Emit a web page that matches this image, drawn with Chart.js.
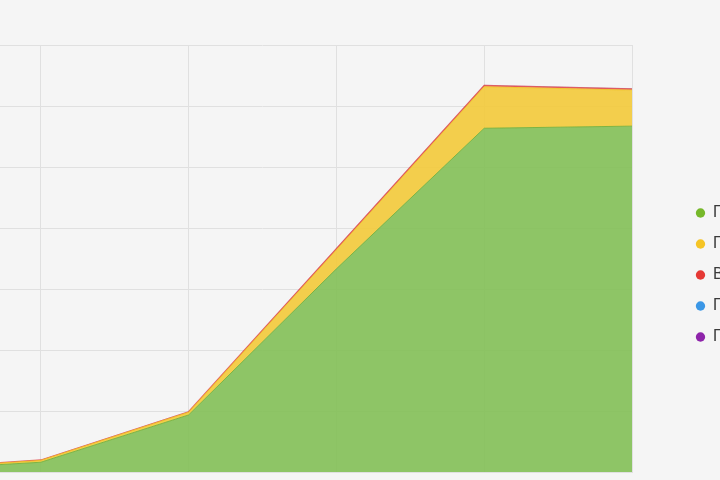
<!DOCTYPE html>
<html><head><meta charset="utf-8">
<script src="https://cdn.jsdelivr.net/npm/chart.js@4.4.0/dist/chart.umd.min.js"></script>
<style>
html,body{margin:0;padding:0;width:720px;height:480px;overflow:hidden;background:#f5f5f5;}
#wrap{position:absolute;left:-108px;top:35px;width:908px;height:480px;}
</style></head><body>
<div id="wrap"><canvas id="c" width="908" height="480"></canvas></div>
<script>
const categories = ['2016', '2017', '2018', '2019', '2020', '2021'];
const seriesNames = ['Природный газ', 'Попутный нефтяной газ', 'Возобновляемые источники', 'Продукты переработки', 'Прочие источники'];
const greenValues  = [20, 160, 935, 3330, 5635, 5670];
const yellowValues = [10, 30, 45, 310, 680, 590];
const redValues    = [2, 5, 6, 20, 20, 20];
const blueValues   = [0, 0, 2, 4, 4, 4];
const purpleValues = [0, 0, 1, 2, 2, 2];
const yTicks = [0, 1000, 2000, 3000, 4000, 5000, 6000, 7000];

const solid = ['#76b82a', '#f5c425', '#e53935', '#3b97e6', '#8e24aa'];
const fills = ['rgba(128,190,82,0.88)', 'rgba(242,200,52,0.88)', 'rgba(229,57,53,0.5)', 'rgba(59,151,230,0.3)', 'rgba(142,36,170,0.3)'];
const lines = ['rgba(118,176,60,0.9)', 'rgba(240,196,40,0.9)', 'rgba(229,57,53,0.7)', 'rgba(59,151,230,0.15)', 'rgba(142,36,170,0.12)'];
const widths = [1, 1, 1.5, 1, 1];
const allValues = [greenValues, yellowValues, redValues, blueValues, purpleValues];

const datasets = allValues.map((vals, i) => ({
  label: seriesNames[i],
  data: vals,
  fill: i === 0 ? 'origin' : '-1',
  backgroundColor: fills[i],
  borderColor: lines[i],
  borderWidth: widths[i],
  pointRadius: 0,
  pointHoverRadius: 0,
  pointBackgroundColor: solid[i],
  pointBorderColor: solid[i],
  pointBorderWidth: 0,
  tension: 0
}));

const wrap = document.getElementById('wrap');
const chart = new Chart(document.getElementById('c'), {
  type: 'line',
  data: { labels: categories, datasets },
  options: {
    responsive: false,
    animation: false,
    layout: { padding: { top: 10, bottom: 10, left: 0, right: 0 } },
    plugins: {
      tooltip: { enabled: false },
      legend: {
        position: 'right',
        maxWidth: 120,
        labels: {
          usePointStyle: true,
          pointStyle: 'circle',
          boxWidth: 9,
          boxHeight: 6.6,
          padding: 15,
          color: '#3a3a3a',
          font: { family: '"Liberation Sans", Arial, sans-serif', size: 16 }
        }
      }
    },
    scales: {
      x: {
        offset: false,
        grid: { color: '#e0e0e0', drawTicks: false },
        border: { color: '#e0e0e0' },
        ticks: { display: false },
        afterFit(s) { s.height = 33; }
      },
      y: {
        stacked: true,
        min: yTicks[0],
        max: yTicks[yTicks.length - 1],
        afterBuildTicks(s) { s.ticks = yTicks.map(v => ({ value: v })); },
        grid: { color: '#e0e0e0', drawTicks: false },
        border: { display: false },
        ticks: { display: false }
      },
      gap: {
        type: 'linear',
        position: 'right',
        display: true,
        grid: { display: false, drawTicks: false },
        border: { display: false },
        ticks: { display: false },
        afterFit(s) { s.width = 49; }
      }
    }
  }
});
const ca = chart.chartArea;
wrap.style.left = Math.round(632 - ca.right) + 'px';
wrap.style.top = Math.round(45 - ca.top) + 'px';
</script>
</body></html>
